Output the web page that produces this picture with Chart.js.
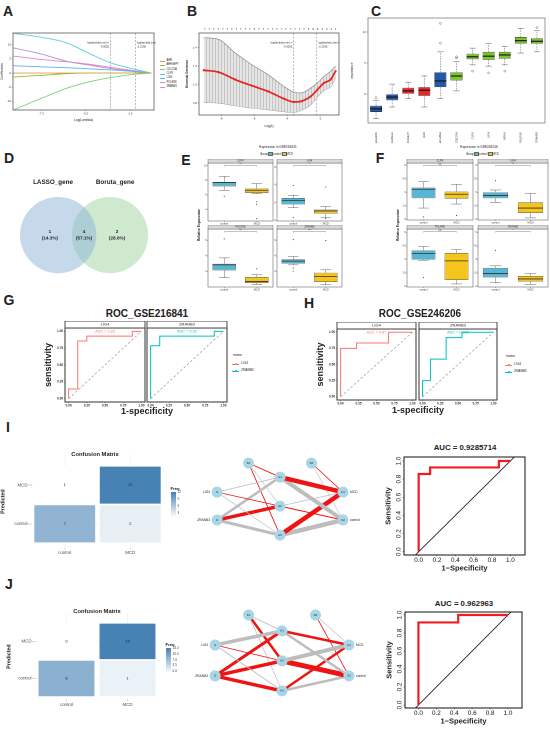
<!DOCTYPE html>
<html>
<head>
<meta charset="utf-8">
<title>Figure</title>
<script src="https://cdn.jsdelivr.net/npm/chart.js@4.4.1/dist/chart.umd.min.js"></script>
<style>
  html, body { margin: 0; padding: 0; background: #fff; }
  body { position: relative; width: 550px; height: 733px; overflow: hidden; font-family: "Liberation Sans", Arial, sans-serif; color: #222; }
  canvas { position: absolute; }
  .t { position: absolute; white-space: pre; line-height: 1; }
  .sw { position: absolute; }
</style>
</head>
<body>
<script>
// ---------- A: lasso coefficient paths ----------
const lassoGenes = ['AHR', 'ARHGEF7', 'CDC25A', 'CLPX', 'LIG4', 'POLR3K', 'ZRANB3'];
const lassoColors = ['#d6a43c', '#9cb43c', '#78d27a', '#5ad2d8', '#5fb0ea', '#b58fd8', '#ea86c2'];
const lassoLogLambda = [-9.1, -7.5, -6.1, -4.8, -3.6, -2.2, -1.3];
const coefAhr = [0, 0, 0, 0, 0, 0, 0];
const coefArhgef7 = [-1.4, -0.8, -0.2, 0, 0, 0, 0];
const coefCdc25a = [-13.0, -8.9, -5.4, -3.1, -1.6, -0.4, 0];
const coefClpx = [14.0, 12.6, 10.7, 6.9, 3.6, 1.3, 0];
const coefLig4 = [2.6, 2.2, 1.9, 1.5, 1.1, 0.5, 0];
const coefPolr3k = [8.9, 6.7, 4.2, 2.8, 1.6, 0.6, 0];
const coefZranb3 = [6.0, 4.8, 4.0, 3.1, 2.0, 0.8, 0];
const lassoTicksX = [-7.5, -5, -2.5];
const lassoTicksY = [-10, -5, 0, 5, 10];
const lambdaCuts = [-3.6, -2.2];
const lambdaNotes = [['log(lambda.min) =', '-3.6052'], ['log(lambda.1se) =', '-2.2195']];

// ---------- B: cross-validation ----------
const cvLogLambda = [-9.06, -8.16, -7.16, -6.16, -5.16, -4.16, -3.56, -3.16, -2.56, -2.16, -1.76, -1.36, -1.06];
const cvDeviance = [1.156, 1.135, 1.055, 0.989, 0.927, 0.844, 0.811, 0.818, 0.873, 0.945, 1.018, 1.055, 1.145];
const cvUpper = [1.509, 1.491, 1.345, 1.218, 1.109, 0.975, 0.916, 0.909, 0.964, 1.018, 1.091, 1.145, 1.2];
const cvLower = [0.807, 0.8, 0.771, 0.745, 0.727, 0.705, 0.698, 0.72, 0.782, 0.865, 0.938, 0.975, 1.073];
const cvTicksX = [-8, -6, -4, -2];
const cvTicksY = [0.8, 1.0, 1.2, 1.4];
const cvTopLambda = [-9.0, -8.73, -8.45, -8.18, -7.9, -7.63, -7.36, -7.08, -6.81, -6.53, -6.26, -5.99, -5.71, -5.44, -5.16,
  -4.89, -4.62, -4.34, -4.07, -3.79, -3.52, -3.25, -2.97, -2.7, -2.42, -2.15, -1.88, -1.6, -1.33, -1.06];
const cvTopCount = [7, 7, 7, 7, 7, 7, 7, 7, 7, 7, 7, 6, 7, 7, 7, 7, 7, 7, 7, 7, 7, 7, 7, 6, 6, 6, 4, 3, 1, 1];

// ---------- C: Boruta importance ----------
const borutaLabels = ['shadowMin', 'shadowMean', 'ARHGEF7', 'AHR', 'shadowMax', 'CDC25A', 'CLPX', 'LIG4', 'MSH6', 'POLR3K', 'ZRANB3'];
const borutaDecision = ['shadow', 'shadow', 'rejected', 'rejected', 'shadow', 'confirmed', 'confirmed', 'confirmed', 'confirmed', 'confirmed', 'confirmed'];
// [low whisker, q1, median, q3, high whisker]
const borutaBoxes = [
  [-4.0, -2.9, -2.4, -1.9, -1.0], [-2.1, -1.0, -0.5, 0.0, 1.6], [-0.7, 0.0, 0.5, 1.0, 1.9], [-2.1, -0.3, 0.6, 1.1, 2.9],
  [-0.7, 1.1, 2.1, 3.5, 6.8], [0.5, 2.2, 2.9, 3.5, 5.2], [4.7, 5.6, 6.0, 6.5, 7.4], [4.5, 5.5, 6.1, 6.8, 8.1],
  [4.7, 5.7, 6.3, 6.8, 7.7], [6.6, 8.1, 8.6, 9.2, 10.6], [6.8, 8.1, 8.5, 9.0, 10.2]];
const borutaOutliers = [[-0.6], [], [], [], [8.2, 11.4], [5.8, 6.0], [3.7], [3.4], [3.7], [], [10.7]];
const borutaTicks = [0, 5, 10];

// ---------- D: venn ----------
const vennSets = ['LASSO_gene', 'Boruta_gene'];
const vennCx = [-0.62, 0.70];
const vennCy = -0.13;
const vennR = 0.97;
const vennRegionX = [-0.83, 0.04, 0.88];
const vennCounts = ['1', '4', '2'];
const vennPct = ['(14.3%)', '(57.1%)', '(28.6%)'];

// ---------- E / F: expression boxplots ----------
const groups = ['control', 'MCD'];
const facetGenes = ['CLPX', 'LIG4', 'POLR3K', 'ZRANB3'];
const eCtrl = [[6.64, 7.18, 7.68, 7.77, 8.55], [1.43, 1.81, 2.26, 2.53, 2.83], [1.19, 2.13, 2.85, 2.98, 3.74], [2.85, 2.98, 3.32, 3.53, 3.91]];
const eMcd = [[6.18, 6.27, 6.64, 6.86, 7.55], [0.30, 0.75, 1.06, 1.21, 1.58], [0.30, 0.51, 0.70, 1.28, 1.57], [0.30, 0.64, 1.36, 1.83, 2.21]];
const eCtrlOut = [[5.82], [3.96, 0.30], [6.17], [6.09, 2.43, 2.04]];
const eMcdOut = [[5.05, 4.73, 2.77], [3.77, 0.19], [2.34], [5.96]];
const eSig = ['**', '*', '***', '***'];
const eRange = [[2.45, 10.36], [-0.08, 6.5], [0, 7.45], [0, 7.45]];
const eTicks = [[4, 6, 8, 10], [0, 2, 4, 6], [2, 4, 6], [2, 4, 6]];
const fCtrl = [[1.27, 2.36, 3.35, 3.53, 4.18], [1.89, 2.36, 2.65, 3.02, 3.27], [2.91, 2.98, 3.64, 4.00, 4.44], [0.44, 1.02, 1.45, 2.07, 2.29]];
const fMcd = [[1.71, 2.33, 2.80, 3.09, 3.89], [0.18, 0.73, 1.27, 1.89, 2.91], [0.29, 0.73, 2.84, 3.71, 4.07], [0.25, 0.55, 0.84, 1.16, 1.45]];
const fCtrlOut = [[0.29], [4.29], [0.98], [4.00]];
const fMcdOut = [[0.44], [], [], []];
const fSig = ['ns', '**', 'ns', '*'];
const fRange = [[-0.05, 6.25], [-0.05, 6.25], [-0.05, 6.36], [-0.05, 6.36]];
const fTicks = [0, 1.5, 3, 4.5, 6];

// ---------- G / H: ROC by gene ----------
const rocRef = [0, 1];
const rocTicks = [0, 0.25, 0.5, 0.75, 1];
const gLig4Fpr = [0, 0, 0.125, 0.125, 0.25, 0.25, 0.875, 0.875, 1];
const gLig4Tpr = [0, 0.143, 0.143, 0.857, 0.857, 0.929, 0.929, 1, 1];
const gZrFpr = [0, 0, 0.125, 0.125, 0.875, 0.875, 1];
const gZrTpr = [0, 0.786, 0.786, 0.929, 0.929, 1, 1];
const hLig4Fpr = [0, 0, 0.222, 0.222, 0.667, 0.667, 1];
const hLig4Tpr = [0, 0.75, 0.75, 0.833, 0.833, 1, 1];
const hZrFpr = [0, 0, 0.111, 0.111, 0.333, 0.333, 0.556, 0.556, 1];
const hZrTpr = [0, 0.25, 0.25, 0.583, 0.583, 0.917, 0.917, 1, 1];
const gAuc = ['AUC = 0.83', 'AUC = 0.92'];
const hAuc = ['AUC = 0.87', 'AUC = 0.806'];

// ---------- I / J: neural network models ----------
const cmCols = ['control', 'MCD'];
const iPredControl = [7, 2];
const iPredMcd = [1, 12];
const jPredControl = [8, 1];
const jPredMcd = [0, 14];
const iFreqTicks = ['12', '9', '6', '3'];
const jFreqTicks = ['14.0', '10.5', '7.0', '3.5', '0.0'];
const netNodes = ['I1', 'I2', 'B1', 'H1', 'H2', 'H3', 'B2', 'O1', 'O2'];
const netLayer = [0, 0, 1, 2, 2, 2, 3, 4, 4];
const iNetLevel = [2.48, 1.52, 3.48, 3, 2, 1, 3.48, 2.48, 1.52];
const jNetLevel = [2.53, 1.5, 3.53, 3, 2, 1, 3.53, 2.53, 1.5];
const netInputs = ['LIG4', 'ZRANB3'];
const netOutputs = ['MCD', 'control'];
// signed weights: red if > 0, grey if < 0, width ~ |w|
const iEdges = [['I1', 'H1', -0.8], ['I1', 'H2', 0.8], ['I1', 'H3', -0.7], ['I2', 'H1', -2.5], ['I2', 'H2', 3.5], ['I2', 'H3', -3],
  ['B1', 'H1', 0.9], ['B1', 'H2', -0.6], ['B1', 'H3', 0.9], ['H1', 'O1', 4.5], ['H1', 'O2', -4], ['H2', 'O1', -0.8],
  ['H2', 'O2', 1], ['H3', 'O1', 4.5], ['H3', 'O2', -4.5], ['B2', 'O1', 0.8], ['B2', 'O2', -0.6]];
const jEdges = [['I1', 'H1', -3.5], ['I1', 'H2', 0.8], ['I1', 'H3', -0.9], ['I2', 'H1', 3], ['I2', 'H2', 3.5], ['I2', 'H3', 3.5],
  ['B1', 'H1', -0.9], ['B1', 'H2', 2.5], ['B1', 'H3', -0.7], ['H1', 'O1', 2.5], ['H1', 'O2', -2.5], ['H2', 'O1', -4],
  ['H2', 'O2', 5], ['H3', 'O1', 2.5], ['H3', 'O2', -2.5], ['B2', 'O1', -0.6], ['B2', 'O2', 0.8]];
const iFpr = [0, 0, 0.125, 0.125, 0.875, 0.875, 1];
const iTpr = [0, 0.857, 0.857, 0.929, 0.929, 1, 1];
const jFpr = [0, 0, 0.444, 0.444, 1];
const jTpr = [0, 0.917, 0.917, 1, 1];
const baseRocTicks = [0, 0.2, 0.4, 0.6, 0.8, 1];
const baseRef = [-0.2, 1.2];

// ---------- helpers ----------
const FONT = '"Liberation Sans", Arial, sans-serif';
Chart.defaults.font.family = FONT;
Chart.defaults.color = '#333';
Chart.defaults.animation = false;
Chart.defaults.events = [];
Chart.defaults.plugins.legend.display = false;
Chart.defaults.plugins.tooltip.enabled = false;
let pid = 0;

// box = plot area on the page [x0,y0,x1,y1], m = room around it [left,top,right,bottom]
function mk(box, m, type, data, options, plugins) {
  const w = box[2] - box[0] + m[0] + m[2];
  const h = box[3] - box[1] + m[1] + m[3];
  const c = document.createElement('canvas');
  c.width = w; c.height = h;
  c.style.left = (box[0] - m[0]) + 'px';
  c.style.top = (box[1] - m[1]) + 'px';
  c.style.width = w + 'px';
  c.style.height = h + 'px';
  document.body.appendChild(c);
  options.responsive = false;
  options.maintainAspectRatio = false;
  options.devicePixelRatio = 2;
  options.layout = {autoPadding: false, padding: {left: 0, top: m[1], right: m[2], bottom: 0}};
  options.scales.x.afterFit = s => { s.height = m[3]; };
  options.scales.y.afterFit = s => { s.width = m[0]; };
  return new Chart(c, {type: type, data: data, options: options, plugins: plugins || []});
}
function plug(hooks) { hooks.id = 'p' + (pid++); return hooks; }
function pts(xs, ys) { return xs.map((x, i) => ({x: x, y: ys[i]})); }
function lin(min, max, o) {
  return Object.assign({type: 'linear', min: min, max: max, grid: {display: false}, border: {display: false}, ticks: {display: false}}, o || {});
}
function tickSet(vals) { return s => { s.ticks = vals.map(v => ({value: v})); }; }
function tk(size, cb, o) {
  const t = {display: true, font: {size: size}, padding: 1, color: '#333'};
  if (cb) t.callback = cb;
  return Object.assign(t, o || {});
}
function tm(len, color) {
  return {display: true, drawOnChartArea: false, offset: false, tickLength: len || 1.5, color: color || '#444', lineWidth: 0.4};
}
function ttl(text, size, bold, color) {
  return {display: true, text: text, font: {size: size, weight: bold ? 'bold' : 'normal'}, padding: {top: 0, bottom: 0}, color: color || '#222'};
}
function ctext(c, s, x, y, size, o) {
  o = o || {};
  c.save();
  c.font = (o.b ? 'bold ' : '') + size + 'px ' + FONT;
  c.fillStyle = o.c || '#222';
  c.textAlign = o.a || 'center';
  c.textBaseline = 'middle';
  c.translate(x, y);
  if (o.r) c.rotate(o.r);
  c.fillText(s, 0, 0);
  c.restore();
}
function T(s, x, y, size, o) {
  o = o || {};
  const d = document.createElement('div');
  d.className = 't';
  d.textContent = s;
  d.style.left = x + 'px';
  d.style.top = y + 'px';
  d.style.fontSize = size + 'px';
  if (o.b) d.style.fontWeight = 'bold';
  if (o.c) d.style.color = o.c;
  const ax = o.a === 'l' ? '0' : (o.a === 'r' ? '-100%' : '-50%');
  d.style.transform = 'translate(' + ax + ',-50%)' + (o.r ? ' rotate(' + o.r + 'deg)' : '');
  document.body.appendChild(d);
}
function sw(x, y, w, h, bg, extra) {
  const d = document.createElement('div');
  d.className = 'sw';
  d.style.cssText = 'left:' + x + 'px;top:' + y + 'px;width:' + w + 'px;height:' + h + 'px;background:' + bg + ';' + (extra || '');
  document.body.appendChild(d);
}
function frame(color, w) {
  return plug({afterDraw(ch) {
    const a = ch.chartArea, c = ch.ctx;
    c.save(); c.strokeStyle = color; c.lineWidth = w;
    c.strokeRect(a.left, a.top, a.right - a.left, a.bottom - a.top);
    c.restore();
  }});
}
function strip(label, h, o) {
  return plug({afterDraw(ch) {
    const a = ch.chartArea, c = ch.ctx;
    c.save();
    c.fillStyle = o.fill; c.fillRect(a.left, a.top - h, a.right - a.left, h);
    c.strokeStyle = o.stroke; c.lineWidth = o.lw; c.strokeRect(a.left, a.top - h, a.right - a.left, h);
    c.restore();
    ctext(c, label, (a.left + a.right) / 2, a.top - h / 2, o.size, {c: '#222'});
  }});
}
function boxPlot(stats, outs, o) {
  return plug({
    beforeDatasetsDraw(ch) {
      const c = ch.ctx, y = ch.scales.y, bars = ch.getDatasetMeta(0).data;
      c.save(); c.strokeStyle = o.wc; c.lineWidth = o.ww;
      stats.forEach((s, i) => {
        const b = bars[i], hw = b.width / 2 * o.cap;
        c.setLineDash(o.dash || []);
        c.beginPath();
        c.moveTo(b.x, y.getPixelForValue(s[3])); c.lineTo(b.x, y.getPixelForValue(s[4]));
        c.moveTo(b.x, y.getPixelForValue(s[1])); c.lineTo(b.x, y.getPixelForValue(s[0]));
        c.stroke();
        c.setLineDash([]);
        c.beginPath();
        [s[0], s[4]].forEach(v => { const py = y.getPixelForValue(v); c.moveTo(b.x - hw, py); c.lineTo(b.x + hw, py); });
        c.stroke();
      });
      c.restore();
    },
    afterDatasetsDraw(ch) {
      const c = ch.ctx, y = ch.scales.y, bars = ch.getDatasetMeta(0).data;
      c.save();
      stats.forEach((s, i) => {
        const b = bars[i], py = y.getPixelForValue(s[2]);
        c.strokeStyle = o.mc; c.lineWidth = o.mw;
        c.beginPath(); c.moveTo(b.x - b.width / 2, py); c.lineTo(b.x + b.width / 2, py); c.stroke();
        (outs[i] || []).forEach(v => {
          c.beginPath(); c.arc(b.x, y.getPixelForValue(v), o.r, 0, Math.PI * 2);
          if (o.fill) { c.fillStyle = o.oc; c.fill(); } else { c.strokeStyle = o.oc; c.lineWidth = 0.4; c.stroke(); }
        });
      });
      c.restore();
    }
  });
}
function bracket(sig) {
  return plug({afterDraw(ch) {
    const c = ch.ctx, a = ch.chartArea, bars = ch.getDatasetMeta(0).data;
    const x1 = bars[0].x, x2 = bars[1].x, yy = a.top + 2.6;
    c.save(); c.strokeStyle = '#555'; c.lineWidth = 0.35;
    c.beginPath(); c.moveTo(x1, yy + 0.9); c.lineTo(x1, yy); c.lineTo(x2, yy); c.lineTo(x2, yy + 0.9); c.stroke();
    c.restore();
    ctext(c, sig, (x1 + x2) / 2, yy - 1.1, 2.6, {c: '#333'});
  }});
}
function cutLines(cuts, notes) {
  return plug({beforeDatasetsDraw(ch) {
    const c = ch.ctx, a = ch.chartArea, s = ch.scales.x;
    c.save(); c.strokeStyle = '#8c8c8c'; c.lineWidth = 0.6; c.setLineDash([2, 1.5]);
    cuts.forEach(v => { const px = s.getPixelForValue(v); c.beginPath(); c.moveTo(px, a.top); c.lineTo(px, a.bottom); c.stroke(); });
    c.restore();
    cuts.forEach((v, i) => {
      const px = s.getPixelForValue(v), left = i === 0;
      notes[i].forEach((ln, k) => ctext(c, ln, px + (left ? -1.5 : 1.5), a.top + 10 + k * 3.6, 2.7, {a: left ? 'right' : 'left'}));
    });
  }});
}

// ---------- panel letters ----------
[['A', 8, 11], ['B', 192, 11], ['C', 376, 11], ['D', 9, 158], ['E', 186, 160], ['F', 380, 158],
 ['G', 9, 300], ['H', 309, 303], ['I', 8, 427], ['J', 9, 584]].forEach(p => T(p[0], p[1], p[2], 14, {b: 1}));

// ---------- A ----------
const lassoSeries = [coefAhr, coefArhgef7, coefCdc25a, coefClpx, coefLig4, coefPolr3k, coefZranb3];
mk([13, 33, 154, 110], [13, 4, 2, 12], 'scatter', {
  datasets: lassoSeries.map((ys, i) => ({
    label: lassoGenes[i], data: pts(lassoLogLambda, ys), showLine: true, borderColor: lassoColors[i],
    borderWidth: 0.9, pointRadius: 0, cubicInterpolationMode: 'monotone'
  }))
}, {
  scales: {
    x: lin(-9.1, -1.15, {afterBuildTicks: tickSet(lassoTicksX), ticks: tk(2.8, v => v.toFixed(1)), grid: tm(1.2), title: ttl('Log(Lambda)', 3.2)}),
    y: lin(-13, 14.1, {afterBuildTicks: tickSet(lassoTicksY), ticks: tk(2.8), grid: tm(1.2), title: ttl('Coefficients', 3.2)})
  }
}, [frame('#7a7a7a', 1), cutLines(lambdaCuts, lambdaNotes)]);
lassoGenes.forEach((g, i) => {
  const y = 61 + i * 4.35;
  sw(160, y - 0.4, 5, 0.8, lassoColors[i]);
  T(g, 166.5, y, 2.6, {a: 'l'});
});

// ---------- B ----------
const hatchCanvas = document.createElement('canvas');
hatchCanvas.width = 6; hatchCanvas.height = 2;
(function () {
  const g = hatchCanvas.getContext('2d');
  g.fillStyle = '#ececec'; g.fillRect(0, 0, 6, 2);
  g.fillStyle = '#b5b5b5'; g.fillRect(0, 0, 1, 2); g.fillRect(3, 0, 1, 2);
})();
mk([199, 33, 339, 115], [14, 8, 2, 13], 'scatter', {
  datasets: [
    {data: pts(cvLogLambda, cvDeviance), showLine: true, borderColor: '#e8231e', borderWidth: 1.7, pointRadius: 1.1,
      pointBackgroundColor: '#e8231e', pointBorderWidth: 0, cubicInterpolationMode: 'monotone', order: 0},
    {data: pts(cvLogLambda, cvUpper), showLine: true, borderColor: '#8e8e8e', borderWidth: 0.7, pointRadius: 0,
      fill: '+1', backgroundColor: ctx => ctx.chart.ctx.createPattern(hatchCanvas, 'repeat'), cubicInterpolationMode: 'monotone', order: 1},
    {data: pts(cvLogLambda, cvLower), showLine: true, borderColor: '#8e8e8e', borderWidth: 0.7, pointRadius: 0,
      cubicInterpolationMode: 'monotone', order: 2}
  ]
}, {
  scales: {
    x: lin(-9.35, -0.85, {afterBuildTicks: tickSet(cvTicksX), ticks: tk(2.8), grid: tm(1.2), title: ttl('Log(\u03bb)', 3.2)}),
    y: lin(0.67, 1.56, {afterBuildTicks: tickSet(cvTicksY), ticks: tk(2.8, v => v.toFixed(1)), grid: tm(1.2), title: ttl('Binomial Deviance', 3.2, true)})
  }
}, [frame('#222', 0.6), cutLines(lambdaCuts, lambdaNotes), plug({afterDraw(ch) {
  const c = ch.ctx, s = ch.scales.x, t = ch.chartArea.top;
  cvTopLambda.forEach((v, i) => ctext(c, String(cvTopCount[i]), s.getPixelForValue(v), t - 4, 2.8));
}})]);

// ---------- C ----------
const decisionColor = {shadow: '#2458a8', rejected: '#e8262a', confirmed: '#7cc42c'};
mk([368, 18, 545, 123], [18, 4, 3, 20], 'bar', {
  labels: borutaLabels,
  datasets: [{data: borutaBoxes.map(b => [b[1], b[3]]), backgroundColor: borutaDecision.map(d => decisionColor[d]),
    borderColor: '#222', borderWidth: 0.5, borderSkipped: false, barPercentage: 0.74, categoryPercentage: 1}]
}, {
  scales: {
    x: {type: 'category', grid: {display: false}, border: {display: false},
      ticks: tk(2.8, null, {minRotation: 90, maxRotation: 90, autoSkip: false, padding: 1})},
    y: lin(-4.68, 12.26, {afterBuildTicks: tickSet(borutaTicks), ticks: tk(2.8), grid: tm(1.2), title: ttl('Importance', 3.2)})
  }
}, [frame('#555', 0.6), boxPlot(borutaBoxes, borutaOutliers, {wc: '#555', ww: 0.5, dash: [1.5, 1], cap: 0.5, mc: '#111', mw: 1.1, oc: '#555', r: 1, fill: false})]);

// ---------- D ----------
const vennFill = ['rgba(140,180,215,0.5)', 'rgba(160,212,160,0.5)'];
mk([0, 170, 165, 290], [0, 0, 0, 0], 'scatter', {
  datasets: vennSets.map((s, i) => ({
    label: s, data: [{x: vennCx[i], y: vennCy}],
    pointRadius: ctx => ctx.chart.scales.x.getPixelForValue(vennR) - ctx.chart.scales.x.getPixelForValue(0),
    backgroundColor: vennFill[i], borderWidth: 0
  }))
}, {scales: {x: lin(-2.1, 2.1), y: lin(-1.527, 1.527)}}, [plug({afterDraw(ch) {
  const c = ch.ctx, x = ch.scales.x, y = ch.scales.y;
  ctext(c, vennSets[0], x.getPixelForValue(-0.75), y.getPixelForValue(1.22), 6.3, {b: 1});
  ctext(c, vennSets[1], x.getPixelForValue(0.83), y.getPixelForValue(1.22), 6.3, {b: 1});
  vennRegionX.forEach((v, i) => {
    const px = x.getPixelForValue(v), py = y.getPixelForValue(vennCy);
    ctext(c, vennCounts[i], px, py - 3.2, 4.6, {b: 1});
    ctext(c, vennPct[i], px, py + 3, 4.6, {b: 1});
  });
}})]);

// ---------- E / F ----------
const groupColors = ['#57b6d3', '#f5c51c'];
function boxFacet(box, m, gene, ctrl, mcd, oc, om, sig, yr, yt) {
  const stats = [ctrl, mcd];
  return mk(box, m, 'bar', {
    labels: groups,
    datasets: [{data: stats.map(s => [s[1], s[3]]), backgroundColor: groupColors, borderColor: '#5a5a5a',
      borderWidth: 0.5, borderSkipped: false, barPercentage: 0.72, categoryPercentage: 1}]
  }, {
    scales: {
      x: {type: 'category', grid: tm(0.9), border: {display: false}, ticks: tk(2.6, null, {padding: 0.4})},
      y: lin(yr[0], yr[1], {afterBuildTicks: tickSet(yt), ticks: tk(2.4, null, {padding: 0.4}), grid: tm(0.9)})
    }
  }, [boxPlot(stats, [oc, om], {wc: '#555', ww: 0.45, cap: 0.45, mc: '#333', mw: 0.8, oc: '#333', r: 0.55, fill: true}),
      frame('#4a4a4a', 0.5), strip(gene, 4, {fill: '#d9d9d9', stroke: '#555', lw: 0.4, size: 2.6}), bracket(sig)]);
}
const eBoxes = [[208, 163, 273, 221], [277, 163, 342, 221], [208, 229, 273, 287], [277, 229, 342, 287]];
const fBoxes = [[407, 163, 473, 220], [478, 163, 548, 220], [407, 229, 473, 287], [478, 229, 548, 287]];
facetGenes.forEach((g, i) => {
  boxFacet(eBoxes[i], [i % 2 ? 4 : 7, 4, 1, 5], g, eCtrl[i], eMcd[i], eCtrlOut[i], eMcdOut[i], eSig[i], eRange[i], eTicks[i]);
  boxFacet(fBoxes[i], [i % 2 ? 4 : 5, 4, 1, 5], g, fCtrl[i], fMcd[i], fCtrlOut[i], fMcdOut[i], fSig[i], fRange[i], fTicks);
});
function boxLegend(title, cx, x0) {
  T(title, cx, 148, 3.2);
  T('Group', x0, 154, 2.8, {a: 'l'});
  sw(x0 + 9, 152.6, 3, 2.8, groupColors[0], 'outline:0.4px solid #666;');
  T('control', x0 + 13, 154, 2.8, {a: 'l'});
  sw(x0 + 22.5, 152.6, 3, 2.8, groupColors[1], 'outline:0.4px solid #666;');
  T('MCD', x0 + 26.5, 154, 2.8, {a: 'l'});
}
boxLegend('Expression in GSE216841', 278, 260);
boxLegend('Expression in GSE246206', 479, 466);
T('Relative Expression', 199.5, 225, 3.4, {b: 1, r: -90});
T('Relative Expression', 398.5, 225, 3.4, {b: 1, r: -90});

// ---------- G / H ----------
const geneColors = ['#F8766D', '#00BFC4'];
function rocFacet(box, m, gene, fpr, tpr, color, auc, showY) {
  const yo = showY ? {afterBuildTicks: tickSet(rocTicks), ticks: tk(3.2, v => v.toFixed(2), {padding: 0.6, font: {size: 3.2, weight: 'bold'}}),
    grid: tm(1.2, '#333'), title: ttl('sensitivity', 9, true)} : {};
  return mk(box, m, 'scatter', {
    datasets: [
      {data: pts(fpr, tpr), showLine: true, borderColor: color, borderWidth: 1, pointRadius: 0, order: 0},
      {data: pts(rocRef, rocRef), showLine: true, borderColor: '#9a9a9a', borderWidth: 0.7, borderDash: [2.5, 2], pointRadius: 0, order: 1}
    ]
  }, {
    scales: {
      x: lin(-0.05, 1.05, {afterBuildTicks: tickSet(rocTicks), ticks: tk(3.2, v => v.toFixed(2), {padding: 0.6, font: {size: 3.2, weight: 'bold'}}), grid: tm(1.2, '#333')}),
      y: lin(-0.05, 1.05, yo)
    }
  }, [frame('#333', 1), strip(gene, 7, {fill: '#fff', stroke: '#333', lw: 0.9, size: 4}),
      plug({afterDraw(ch) { const a = ch.chartArea; ctext(ch.ctx, auc, (a.left + a.right) / 2, a.top + 3.6, 3.8, {c: color}); }})]);
}
rocFacet([65, 328, 145, 402], [22, 7, 1, 6], 'LIG4', gLig4Fpr, gLig4Tpr, geneColors[0], gAuc[0], true);
rocFacet([147, 328, 227, 402], [1, 7, 1, 6], 'ZRANB3', gZrFpr, gZrTpr, geneColors[1], gAuc[1], false);
rocFacet([337, 329, 416, 400], [22, 7, 1, 6], 'LIG4', hLig4Fpr, hLig4Tpr, geneColors[0], hAuc[0], true);
rocFacet([419, 329, 497, 400], [1, 7, 1, 6], 'ZRANB3', hZrFpr, hZrTpr, geneColors[1], hAuc[1], false);
T('ROC_GSE216841', 147, 314, 10, {b: 1});
T('ROC_GSE246206', 420, 314, 10, {b: 1});
T('1-specificity', 147, 411, 9, {b: 1});
T('1-specificity', 418, 410, 9, {b: 1});
function rocLegend(x, y) {
  T('name', x + 1, y, 3.6, {a: 'l'});
  ['LIG4', 'ZRANB3'].forEach((g, i) => {
    const yy = y + 8 + i * 7;
    sw(x, yy - 0.4, 7, 0.9, geneColors[i]);
    sw(x + 2.5, yy - 1, 2, 2, geneColors[i], 'border-radius:50%;');
    T(g, x + 9, yy, 3.2, {a: 'l'});
  });
}
rocLegend(232, 356);
rocLegend(505, 357);

// ---------- I / J: confusion matrices ----------
function freqColor(v, lo, hi) {
  const t = Math.pow((v - lo) / (hi - lo), 0.85);
  const mix = (a, b) => Math.round(a + (b - a) * t);
  return 'rgb(' + mix(255, 70) + ',' + mix(255, 130) + ',' + mix(255, 180) + ')';
}
function cmChart(box, m, yr, predControl, predMcd, lo, hi, pct) {
  const tile = {borderColor: '#fff', borderWidth: 0.8, borderSkipped: false, grouped: false, barPercentage: pct, categoryPercentage: 1};
  return mk(box, m, 'bar', {
    labels: cmCols,
    datasets: [
      Object.assign({label: 'control', data: cmCols.map(() => [0, 1]), backgroundColor: predControl.map(v => freqColor(v, lo, hi))}, tile),
      Object.assign({label: 'MCD', data: cmCols.map(() => [1, 2]), backgroundColor: predMcd.map(v => freqColor(v, lo, hi))}, tile)
    ]
  }, {
    scales: {
      x: {type: 'category', offset: true, border: {display: false},
        grid: {display: true, offset: false, color: '#ebebeb', lineWidth: 0.6, tickLength: 1.5, tickColor: '#bbb'},
        ticks: tk(4.4, null, {color: '#4d4d4d', padding: 0.5})},
      y: lin(yr[0], yr[1], {afterBuildTicks: tickSet([0.5, 1.5]), ticks: tk(4.4, v => v < 1 ? cmCols[0] : cmCols[1], {color: '#4d4d4d', padding: 0.5}),
        grid: {display: true, color: '#ebebeb', lineWidth: 0.6, tickLength: 4, tickColor: '#bbb'}, title: ttl('Predicted', 5.4, true)})
    }
  }, [plug({afterDatasetsDraw(ch) {
    [predControl, predMcd].forEach((vals, d) => {
      ch.getDatasetMeta(d).data.forEach((b, i) => ctext(ch.ctx, String(vals[i]), b.x, (b.y + b.base) / 2, 4, {c: '#222'}));
    });
  }})]);
}
cmChart([32, 452, 163, 548], [32, 0, 0, 9], [-0.125, 2.275], iPredControl, iPredMcd, 1, 12, 0.954);
cmChart([36, 610, 158, 700], [30, 0, 0, 9], [-0.08, 2.26], jPredControl, jPredMcd, 0, 14, 0.943);
T('Confusion Matrix', 95, 455, 5.8, {b: 1});
T('Confusion Matrix', 97, 612, 5.8, {b: 1});
function freqLegend(x, y, h, labels) {
  T('Freq', x + 4, y - 3.5, 4.2, {b: 1});
  sw(x, y, 5, h, 'linear-gradient(to bottom, #4682b4, #ffffff)');
  labels.forEach((s, i) => T(s, x + 6.5, y + 1 + i * (h - 2) / (labels.length - 1 + (labels.length === 4 ? 0.35 : 0)), 3.2, {a: 'l', c: '#444'}));
}
freqLegend(171, 492, 25, iFreqTicks);
freqLegend(166, 648, 25, jFreqTicks);

// ---------- I / J: network diagrams ----------
function netChart(box, xr, yr, levels, edges) {
  const at = n => netNodes.indexOf(n);
  const ds = [{data: netNodes.map((n, i) => ({x: netLayer[i], y: levels[i]})), pointRadius: 5,
    backgroundColor: '#a8d6e6', borderColor: '#a8d6e6', order: 0}];
  edges.forEach(e => {
    const a = at(e[0]), b = at(e[1]);
    ds.push({data: [{x: netLayer[a], y: levels[a]}, {x: netLayer[b], y: levels[b]}], showLine: true,
      borderColor: e[2] > 0 ? '#ee1414' : '#bdbdbd', borderWidth: Math.abs(e[2]), pointRadius: 0, order: 1});
  });
  return mk(box, [0, 0, 0, 0], 'scatter', {datasets: ds}, {scales: {x: lin(xr[0], xr[1]), y: lin(yr[0], yr[1])}},
    [plug({afterDatasetsDraw(ch) {
      const c = ch.ctx, x = ch.scales.x, y = ch.scales.y;
      netNodes.forEach((n, i) => ctext(c, n, x.getPixelForValue(netLayer[i]), y.getPixelForValue(levels[i]), 3, {c: '#333'}));
      netInputs.forEach((s, i) => ctext(c, s, x.getPixelForValue(netLayer[i]) - 7, y.getPixelForValue(levels[i]), 3.3, {a: 'right'}));
      netOutputs.forEach((s, i) => ctext(c, s, x.getPixelForValue(netLayer[7 + i]) + 7, y.getPixelForValue(levels[7 + i]), 3.3, {a: 'left'}));
    }})]);
}
netChart([185, 455, 370, 545], [-1.02, 4.86], [0.66, 3.76], iNetLevel, iEdges);
netChart([185, 603, 372, 702], [-0.9, 4.69], [0.63, 3.93], jNetLevel, jEdges);

// ---------- I / J: ROC of the network ----------
function baseRoc(box, m, xr, yr, fpr, tpr) {
  return mk(box, m, 'scatter', {
    datasets: [
      {data: pts(fpr, tpr), showLine: true, borderColor: '#ee1d23', borderWidth: 2.2, pointRadius: 0, order: 0},
      {data: pts(baseRef, baseRef), showLine: true, borderColor: '#111', borderWidth: 0.8, pointRadius: 0, order: 1}
    ]
  }, {
    scales: {
      x: lin(xr[0], xr[1], {afterBuildTicks: tickSet(baseRocTicks), ticks: tk(6.3, v => v.toFixed(1), {padding: 0, color: '#111'}),
        grid: tm(1.5, '#111'), title: ttl('1\u2212Specificity', 7.5, true)}),
      y: lin(yr[0], yr[1], {afterBuildTicks: tickSet(baseRocTicks), grid: tm(1.5, '#111'), title: ttl('Sensitivity', 7.5, true)})
    }
  }, [frame('#111', 1), plug({afterDraw(ch) {
    const s = ch.scales.y, a = ch.chartArea;
    baseRocTicks.forEach(v => ctext(ch.ctx, v.toFixed(1), a.left - 5.2, s.getPixelForValue(v), 6.3, {r: -Math.PI / 2, c: '#111'}));
  }})]);
}
baseRoc([404, 457, 525, 555], [20, 2, 2, 18], [-0.16, 1.16], [-0.036, 1.044], iFpr, iTpr);
baseRoc([405, 612, 522, 708], [20, 2, 2, 18], [-0.15, 1.156], [-0.033, 1.033], jFpr, jTpr);
T('AUC = 0.9285714', 465, 448, 7.8, {b: 1});
T('AUC = 0.962963', 464, 604, 7.8, {b: 1});
</script>
</body>
</html>
